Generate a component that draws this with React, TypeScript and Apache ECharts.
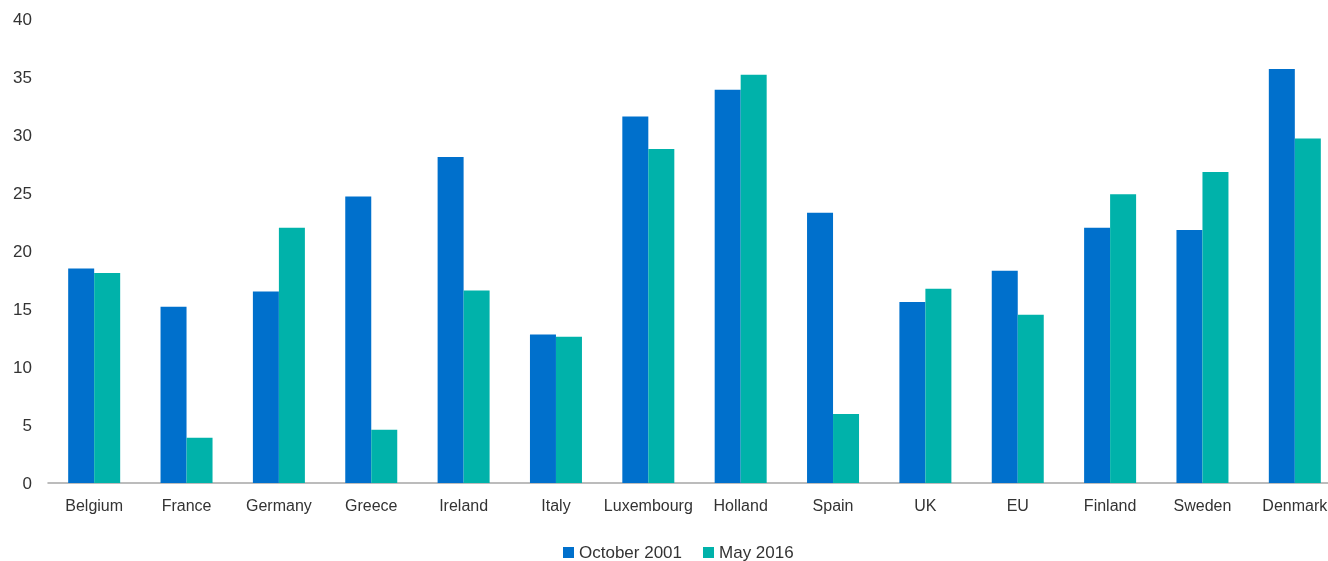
import React, { useEffect, useRef } from "react";
import * as echarts from "echarts";

const categories = ["Belgium", "France", "Germany", "Greece", "Ireland", "Italy", "Luxembourg", "Holland", "Spain", "UK", "EU", "Finland", "Sweden", "Denmark"];
const october2001 = [18.5, 15.2, 16.5, 24.7, 28.1, 12.8, 31.6, 33.9, 23.3, 15.6, 18.3, 22.0, 21.8, 35.7];
const may2016 = [18.1, 3.9, 22.0, 4.6, 16.6, 12.6, 28.8, 35.2, 5.95, 16.75, 14.5, 24.9, 26.8, 29.7];
const seriesNames = ["October 2001", "May 2016"];
const colors = ["#0070cc", "#00b2aa"];

export default function App() {
  const ref = useRef<HTMLDivElement>(null);
  useEffect(() => {
    if (!ref.current) return;
    const chart = echarts.init(ref.current, undefined, { renderer: "svg" });
    const font = "'Liberation Sans', Helvetica, Arial, sans-serif";
    chart.setOption({
      animation: false,
      textStyle: { fontFamily: font },
      grid: { left: 48, right: 0, top: 19, bottom: 78, containLabel: false },
      legend: {
        data: seriesNames,
        left: 563,
        top: 544,
        padding: 0,
        icon: "rect",
        itemWidth: 11,
        itemHeight: 11,
        itemGap: 21,
        textStyle: { fontSize: 17, lineHeight: 17, color: "#333", fontFamily: font },
      },
      xAxis: {
        type: "category",
        data: categories,
        axisLine: { lineStyle: { color: "#a6a6a6", width: 1.5 } },
        axisTick: { show: false },
        axisLabel: { fontSize: 16, color: "#333", margin: 14, fontFamily: font, interval: 0 },
      },
      yAxis: {
        type: "value",
        min: 0,
        max: 40,
        interval: 5,
        axisLine: { show: false },
        axisTick: { show: false },
        splitLine: { show: false },
        axisLabel: { fontSize: 17, color: "#333", margin: 16, fontFamily: font },
      },
      series: [
        { name: seriesNames[0], type: "bar", data: october2001, barWidth: 26, barGap: "0%", itemStyle: { color: colors[0] } },
        { name: seriesNames[1], type: "bar", data: may2016, barWidth: 26, barGap: "0%", itemStyle: { color: colors[1] } },
      ],
    });
    return () => chart.dispose();
  }, []);
  return (
    <div style={{ position: "fixed", left: 0, top: 0, width: 1328, height: 561, overflow: "hidden" }}>
      <div ref={ref} style={{ width: 1341, height: 561 }} />
    </div>
  );
}
